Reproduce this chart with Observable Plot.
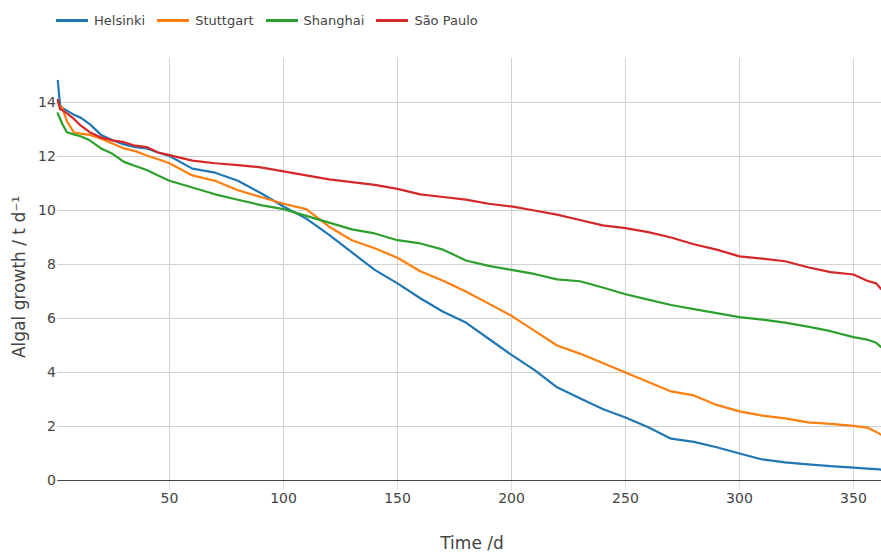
<!DOCTYPE html>
<html>
<head>
<meta charset="utf-8">
<script src="https://cdn.jsdelivr.net/npm/d3@7"></script>
<script src="https://cdn.jsdelivr.net/npm/@observablehq/plot@0.6"></script>
<style>
  html, body { margin: 0; padding: 0; background: #fff; }
  body { width: 881px; height: 553px; overflow: hidden; font-family: "DejaVu Sans", sans-serif; }
  #legend { height: 40px; display: flex; align-items: center; padding-left: 56px; box-sizing: border-box; color: #444; font-size: 13px; }
  .item { display: flex; align-items: center; margin-right: 12px; }
  .swatch { width: 32px; height: 3px; margin-right: 6px; }
</style>
</head>
<body>
<div id="legend"></div>
<div id="chart"></div>
<script>
const seriesNames = ["Helsinki", "Stuttgart", "Shanghai", "São Paulo"];
const seriesColors = ["#1f77b4", "#ff7f0e", "#2ca02c", "#d62728"];

const days = [1, 2, 3, 5, 8, 11, 15, 20, 25, 30, 35, 40, 45, 50, 60, 70, 80, 90, 100, 110, 120, 130, 140, 150, 160, 170, 180, 190, 200, 210, 220, 230, 240, 250, 260, 270, 280, 290, 300, 310, 320, 330, 340, 350, 356, 360, 362];

const helsinki = [14.8, 13.9, 13.8, 13.7, 13.55, 13.44, 13.2, 12.8, 12.6, 12.45, 12.35, 12.3, 12.15, 12.02, 11.55, 11.4, 11.1, 10.65, 10.15, 9.7, 9.1, 8.45, 7.8, 7.3, 6.75, 6.25, 5.85, 5.25, 4.65, 4.1, 3.45, 3.05, 2.65, 2.33, 1.97, 1.55, 1.43, 1.23, 1.0, 0.78, 0.67, 0.6, 0.53, 0.48, 0.44, 0.42, 0.4];
const stuttgart = [14.0, 13.85, 13.8, 13.3, 12.9, 12.85, 12.8, 12.66, 12.48, 12.3, 12.2, 12.04, 11.9, 11.75, 11.3, 11.1, 10.75, 10.5, 10.25, 10.05, 9.4, 8.9, 8.6, 8.25, 7.75, 7.4, 7.0, 6.55, 6.1, 5.55, 5.0, 4.7, 4.35, 4.0, 3.65, 3.3, 3.15, 2.8, 2.56, 2.4, 2.3, 2.15, 2.1, 2.02, 1.96, 1.8, 1.7];
const shanghai = [13.6, 13.4, 13.2, 12.9, 12.82, 12.75, 12.6, 12.3, 12.1, 11.8, 11.65, 11.5, 11.3, 11.1, 10.85, 10.6, 10.4, 10.2, 10.05, 9.8, 9.55, 9.3, 9.15, 8.9, 8.78, 8.55, 8.15, 7.95, 7.8, 7.65, 7.45, 7.38, 7.15, 6.9, 6.7, 6.5, 6.35, 6.2, 6.05, 5.96, 5.85, 5.7, 5.53, 5.31, 5.22, 5.1, 4.95];
const saoPaulo = [14.1, 13.75, 13.72, 13.6, 13.4, 13.15, 12.9, 12.7, 12.6, 12.53, 12.4, 12.35, 12.15, 12.05, 11.85, 11.75, 11.68, 11.6, 11.45, 11.3, 11.15, 11.05, 10.95, 10.8, 10.6, 10.5, 10.4, 10.25, 10.15, 10.0, 9.85, 9.65, 9.45, 9.35, 9.2, 9.0, 8.75, 8.55, 8.3, 8.22, 8.12, 7.9, 7.72, 7.63, 7.4, 7.3, 7.1];

const xTicks = [50, 100, 150, 200, 250, 300, 350];
const yTicks = [0, 2, 4, 6, 8, 10, 12, 14];
const xTitle = "Time /d";
const yTitle = "Algal growth / t d⁻¹";

const allSeries = [helsinki, stuttgart, shanghai, saoPaulo];
const rows = [];
allSeries.forEach((vals, i) => {
  vals.forEach((v, j) => rows.push({day: days[j], value: v, city: seriesNames[i]}));
});

// legend
const legend = document.getElementById("legend");
seriesNames.forEach((n, i) => {
  const it = document.createElement("div");
  it.className = "item";
  const sw = document.createElement("div");
  sw.className = "swatch";
  sw.style.background = seriesColors[i];
  const tx = document.createElement("span");
  tx.textContent = n;
  it.appendChild(sw); it.appendChild(tx);
  legend.appendChild(it);
});

const chart = Plot.plot({
  width: 881,
  height: 513,
  marginTop: 18,
  marginBottom: 73,
  marginLeft: 57.3,
  marginRight: 0,
  style: {fontFamily: "DejaVu Sans, sans-serif", fontSize: "14px", color: "#444", background: "#fff", overflow: "visible"},
  x: {domain: [1, 362.3]},
  y: {domain: [0, 15.63]},
  color: {domain: seriesNames, range: seriesColors},
  marks: [
    Plot.gridX(xTicks, {stroke: "#d2d2d2", strokeOpacity: 1}),
    Plot.gridY(yTicks.filter(d => d > 0), {stroke: "#d2d2d2", strokeOpacity: 1}),
    Plot.axisX(xTicks, {tickSize: 10, tickPadding: 3, stroke: "#e0e0e0", fill: "#444", label: null}),
    Plot.axisY(yTicks, {tickSize: 0, tickPadding: 2, fill: "#444", label: null}),
    Plot.ruleY([0], {stroke: "#444", strokeWidth: 1}),
    Plot.line(rows, {x: "day", y: "value", z: "city", stroke: "city", strokeWidth: 2.2, curve: "linear"})
  ]
});
document.getElementById("chart").appendChild(chart);

const svg = d3.select(chart);
svg.append("text")
  .attr("x", 472).attr("y", 503)
  .attr("text-anchor", "middle").attr("dominant-baseline", "central")
  .attr("font-size", 17).attr("fill", "#444")
  .text(xTitle);
svg.append("text")
  .attr("transform", "translate(19,237) rotate(-90)")
  .attr("text-anchor", "middle").attr("dominant-baseline", "central")
  .attr("font-size", 17).attr("fill", "#444")
  .text(yTitle);
</script>
</body>
</html>
